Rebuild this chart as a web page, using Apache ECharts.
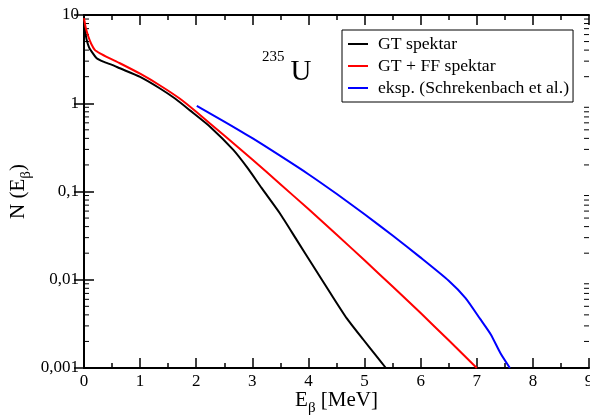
<!DOCTYPE html>
<html>
<head>
<meta charset="utf-8">
<script src="https://cdn.jsdelivr.net/npm/echarts@6/dist/echarts.min.js"></script>
<style>html,body{margin:0;padding:0;background:#fff}#c{width:590px;height:416px}</style>
</head>
<body>
<div id="c"></div>
<script>
// ---- data ----
var seriesNames = ['GT spektar', 'GT + FF spektar', 'eksp. (Schrekenbach et al.)'];
var gtData = [[0, 8.6], [0.02, 6.6], [0.048, 5.2], [0.09, 4.3], [0.137, 3.84], [0.226, 3.24], [0.344, 2.96], [0.5, 2.72], [0.64, 2.49], [1.0, 1.99], [1.355, 1.47], [1.622, 1.13], [1.889, 0.83], [2.246, 0.543], [2.661, 0.296], [2.914, 0.185], [3.168, 0.109], [3.49, 0.0567], [3.79, 0.0283], [4.09, 0.0141], [4.39, 0.00707], [4.68, 0.00368], [4.98, 0.00209], [5.18, 0.00145], [5.38, 0.001]];
var gtffData = [[0, 9.2], [0.03, 7.2], [0.077, 5.7], [0.13, 4.7], [0.196, 4.0], [0.285, 3.68], [0.45, 3.25], [0.64, 2.84], [1.0, 2.16], [1.355, 1.59], [1.711, 1.124], [2.0, 0.80], [2.5, 0.43], [3.0, 0.230], [3.5, 0.121], [4.0, 0.0632], [4.5, 0.0326], [5.0, 0.0166], [5.5, 0.00838], [6.0, 0.00419], [6.5, 0.00206], [7.0, 0.001]];
var expData = [[2.01, 0.931], [2.5, 0.621], [3.0, 0.402], [3.5, 0.253], [4.0, 0.157], [4.5, 0.0942], [5.0, 0.0553], [5.5, 0.0317], [6.0, 0.0178], [6.5, 0.00975], [6.8, 0.0062], [7.06, 0.0036], [7.25, 0.0024], [7.42, 0.00148], [7.59, 0.001]];
var seriesColors = ['#000000', '#ff0000', '#0000ff'];
var xTickLabels = ['0', '1', '2', '3', '4', '5', '6', '7', '8', '9'];
var yTickValues = [0.001, 0.01, 0.1, 1, 10];
var yTickLabels = ['0,001', '0,01', '0,1', '1', '10'];
var yMinorMultipliers = [2, 3, 4, 5, 6, 7, 8, 9];
var isotopeMass = '235';
var isotopeSymbol = 'U';

// minor tick values for the log axis
var yMinorTicks = [];
for (var d = 0; d < yTickValues.length - 1; d++) {
  for (var m = 0; m < yMinorMultipliers.length; m++) {
    yMinorTicks.push([0, yTickValues[d] * yMinorMultipliers[m]]);
  }
}

var FONT = '"Liberation Serif", "DejaVu Serif", serif';

function yLabel(v) {
  var lv = Math.log10(v), best = 0, bd = 1e9;
  for (var i = 0; i < yTickValues.length; i++) {
    var dd = Math.abs(Math.log10(yTickValues[i]) - lv);
    if (dd < bd) { bd = dd; best = i; }
  }
  return yTickLabels[best];
}

var chart = echarts.init(document.getElementById('c'));
var axisLine = { show: true, lineStyle: { color: '#000', width: 2 } };
var tickStyle = { color: '#000', width: 1.5 };

var lineSeries = [gtData, gtffData, expData].map(function (d, i) {
  return {
    name: seriesNames[i], type: 'line', data: d, showSymbol: false, symbol: 'none',
    smooth: 0.2,
    lineStyle: { color: seriesColors[i], width: 2, join: 'round' }, itemStyle: { color: seriesColors[i] },
    xAxisIndex: 0, yAxisIndex: 0, z: 3
  };
});

var option = {
  animation: false,
  backgroundColor: '#fff',
  grid: { left: 84, right: 1, top: 15, bottom: 48, containLabel: false, outerBoundsMode: 'none' },
  title: {
    text: '{sup|' + isotopeMass + '}{big|' + isotopeSymbol + '}',
    left: 257, top: 45,
    textStyle: {
      fontWeight: 'normal',
      rich: {
        sup: { fontFamily: FONT, fontSize: 15, fontWeight: 'normal', color: '#000', verticalAlign: 'bottom', padding: [0, 6, 22, 0] },
        big: { fontFamily: FONT, fontSize: 29, fontWeight: 'normal', color: '#000', verticalAlign: 'bottom' }
      }
    }
  },
  legend: {
    data: seriesNames,
    orient: 'vertical', left: 342, top: 30,
    padding: [5, 4, 5, 6], itemGap: 4,
    borderColor: '#000', borderWidth: 1,
    icon: 'rect', itemWidth: 20, itemHeight: 2,
    textStyle: { fontFamily: FONT, fontSize: 17.7, color: '#000', lineHeight: 17, padding: [0, 0, 0, 5] }
  },
  xAxis: [{
    type: 'value', min: 0, max: 9, interval: 1, position: 'bottom',
    axisLine: axisLine,
    axisTick: { show: true, inside: true, length: 10, lineStyle: tickStyle },
    minorTick: { show: true, splitNumber: 2, length: 5, lineStyle: tickStyle },
    splitLine: { show: false }, minorSplitLine: { show: false },
    axisLabel: { fontFamily: FONT, fontSize: 17, color: '#000', margin: 5,
      formatter: function (v) { return xTickLabels[Math.round(v)]; } },
    name: '{m|E}{s|β}{m| [MeV]}', nameLocation: 'middle', nameGap: 22, nameMoveOverlap: false,
    nameTextStyle: { rich: {
      m: { fontFamily: FONT, fontSize: 21, color: '#000', verticalAlign: 'bottom', padding: [0, 0, 5, 0] },
      s: { fontFamily: FONT, fontSize: 15, color: '#000', verticalAlign: 'bottom' } } }
  }, {
    type: 'value', min: 0, max: 9, interval: 1, position: 'top',
    axisLine: axisLine,
    axisTick: { show: true, inside: true, length: 10, lineStyle: tickStyle },
    minorTick: { show: true, splitNumber: 2, length: 5, lineStyle: tickStyle },
    splitLine: { show: false }, axisLabel: { show: false }
  }],
  yAxis: [{
    type: 'log', logBase: 10, min: 0.001, max: 10, position: 'left',
    axisLine: axisLine,
    axisTick: { show: true, inside: true, length: 10, lineStyle: tickStyle },
    splitLine: { show: false },
    axisLabel: { fontFamily: FONT, fontSize: 17, color: '#000', margin: 5, formatter: yLabel },
    name: '{m|N (E}{s|β}{m|)}', nameLocation: 'middle', nameGap: 50, nameRotate: 90, nameMoveOverlap: false,
    nameTextStyle: { rich: {
      m: { fontFamily: FONT, fontSize: 21, color: '#000', verticalAlign: 'bottom', padding: [0, 0, 5, 0] },
      s: { fontFamily: FONT, fontSize: 15, color: '#000', verticalAlign: 'bottom' } } }
  }, {
    type: 'log', logBase: 10, min: 0.001, max: 10, position: 'right',
    axisLine: axisLine,
    axisTick: { show: true, inside: true, length: 10, lineStyle: tickStyle },
    splitLine: { show: false }, axisLabel: { show: false }
  }],
  series: lineSeries.concat([{
    type: 'custom', name: 'minorTicks', silent: true, xAxisIndex: 0, yAxisIndex: 0,
    data: yMinorTicks, encode: { x: 0, y: 1 },
    renderItem: function (params, api) {
      var v = api.value(1);
      var l = api.coord([0, v]);
      var r = api.coord([9, v]);
      var st = { stroke: '#000', lineWidth: 1 };
      return { type: 'group', children: [
        { type: 'line', shape: { x1: l[0], y1: l[1], x2: l[0] + 5, y2: l[1] }, style: st },
        { type: 'line', shape: { x1: r[0] - 5, y1: r[1], x2: r[0], y2: r[1] }, style: st }
      ] };
    }
  }])
};
chart.setOption(option);
</script>
</body>
</html>
